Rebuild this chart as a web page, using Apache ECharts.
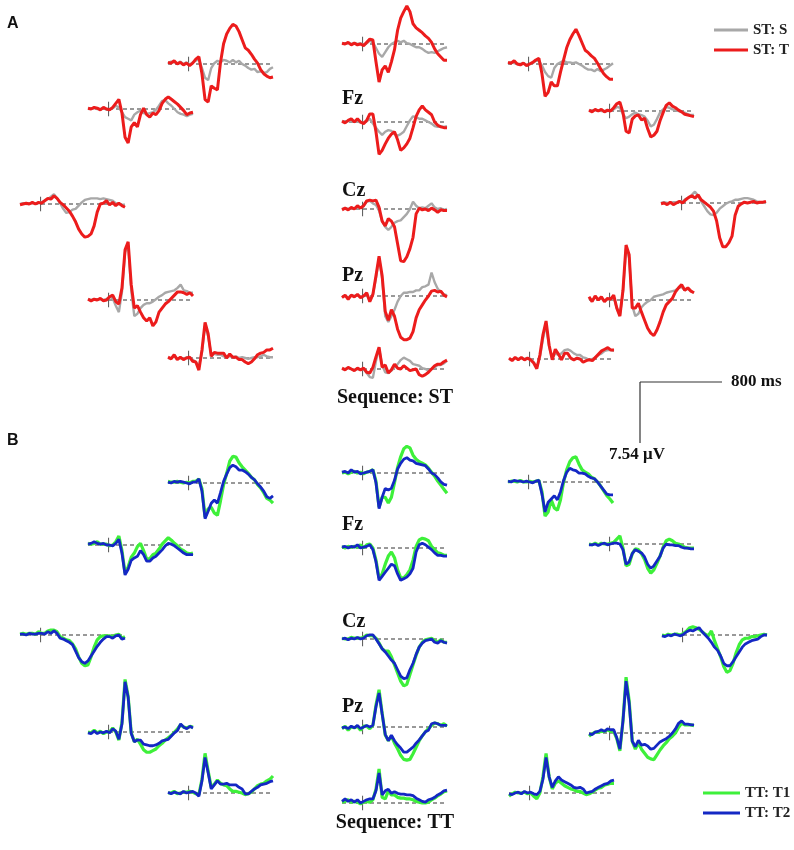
<!DOCTYPE html>
<html>
<head>
<meta charset="utf-8">
<title>ERP waveforms</title>
<script src="https://cdn.jsdelivr.net/npm/echarts@6/dist/echarts.min.js"></script>
<style>
  html, body { margin: 0; padding: 0; background: #fff; }
  #main { width: 794px; height: 850px; }
</style>
</head>
<body>
<div id="main"></div>
<script>
// sample times in ms, shared by every waveform
const times = [-200,-170,-140,-110,-80,-50,-20,10,40,70,100,130,160,190,220,250,280,310,340,370,400,430,460,490,520,550,580,610,640,670,700,730,760,790,820];

// one row per panel, order: top L/C/R, Fz row L/C/R, Cz row L/C/R, Pz row L/C/R, bottom L/C/R   (values in µV)
const stS = [
  [0.1,0.3,0.2,0.1,0.3,0,0.2,-0.1,0.2,0.4,0.6,-0.5,-1.7,-2.0,-0.5,0.1,0.4,0.2,0.5,0.4,0.2,0.5,0.2,0.4,0,-0.2,-0.5,-0.7,-0.6,-1.0,-0.9,-1.1,-1.0,-0.6,-0.4],
  [0,0.1,0.1,0,0.1,0,0.1,-0.1,0.1,0.4,0.2,-0.5,-1.2,-1.6,-1.0,-0.4,0,0.2,0.4,0.2,0.4,0.1,0,-0.2,-0.4,-0.4,-0.6,-0.9,-1.1,-1.0,-1.1,-0.9,-0.7,-0.5,-0.4],
  [0.1,0.2,0.1,0,0,0.1,-0.1,0,0.1,0.4,0.4,-0.2,-1.0,-1.5,-1.7,-0.5,0,0.2,0.4,0.2,0.2,0.1,0.2,0,-0.2,-0.5,-0.7,-0.7,-0.9,-0.6,-0.9,-0.7,-0.5,-0.2,0.1],
  [0,0.1,0.1,0,0,0.1,-0.1,0,0.1,0.4,0.2,-0.4,-1.0,-1.2,-1.4,-0.7,-0.4,-0.2,-0.5,-0.6,-0.5,-0.4,-0.1,0.4,1.0,1.1,0.7,0.4,0,-0.4,-0.6,-0.7,-0.9,-0.7,-0.6],
  [0,0.1,0.1,0.2,0,0.1,-0.1,-0.1,0.1,0.4,-0.2,-0.7,-1.2,-1.6,-1.2,-1.0,-1.1,-1.5,-1.7,-1.5,-1.2,-0.5,0.2,0.7,0.6,0.4,0.4,0.2,0,-0.2,-0.5,-0.6,-0.5,-0.6,-0.5],
  [0,0.1,0.1,0.1,0,0,0,0.1,0.2,0.5,0.4,-0.4,-0.9,-0.7,-0.4,-0.2,-0.4,-0.5,-0.7,-1.2,-1.9,-1.7,-1.0,-0.2,0.2,0.5,0.4,0.2,0.1,0,-0.1,-0.2,-0.4,-0.5,-0.5],
  [0,0.1,0,0.1,0.1,0.1,0.1,0.2,0.4,0.6,0.9,1.2,0.7,0.1,-0.6,-1.1,-1.0,-0.7,-0.6,-0.2,0.2,0.5,0.6,0.7,0.7,0.7,0.6,0.7,0.6,0.5,0.4,0.1,0,-0.1,-0.1],
  [0,0.1,0,0.1,0.1,0.2,0.2,0.4,0.9,1.0,0.7,0.5,-0.2,-1.5,-2.2,-2.6,-2.2,-1.7,-1.5,-1.4,-1.0,-0.6,0,0.9,0.4,0.1,0.2,0.1,0.4,0.7,0.2,0,0.1,-0.1,0],
  [0,0.1,0,0,0.1,0.1,0.2,0.2,0.5,0.7,1.0,1.4,0.9,0.2,-0.4,-1.0,-1.4,-1.5,-1.2,-0.7,-0.4,-0.1,0.1,0.2,0.4,0.4,0.5,0.6,0.6,0.5,0.4,0.2,0.1,0.1,0],
  [0.1,0,0.1,0.1,0.1,0,0.1,0.4,0.2,-0.7,-1.5,1.0,5.9,6.8,1.2,-2.0,-1.7,-1.0,-0.6,-0.4,-0.4,-0.2,0.1,0.4,0.6,0.9,1.0,1.1,1.2,1.5,1.9,1.2,1.1,0.9,0.9],
  [-0.1,0,-0.2,0.1,0,0.1,-0.1,0,0.2,-0.6,0.2,2.2,4.7,2.2,-2.5,-3.2,-2.5,-1.7,-0.7,0,0.4,0.4,0.5,0.5,0.7,0.7,1.1,1.2,1.4,2.9,1.7,0.9,0.5,0.2,0.1],
  [0.2,-0.1,0.4,0,0.2,-0.1,0.1,0.1,0.4,-1.0,-1.9,1.0,6.4,5.2,-0.7,-2.0,-1.7,-0.9,-0.5,-0.2,0,0.4,0.5,0.6,0.7,0.9,1.0,1.1,1.2,1.5,1.6,1.2,1.4,1.1,0.9],
  [0,0,0.2,-0.1,0,-0.1,0.1,0,-0.2,-0.5,-1.0,0.7,4.0,2.7,0.4,0.5,0.4,0.4,0.2,0.2,0.2,0.1,0.2,0,0.1,0,-0.1,0,0.1,0.1,0.2,0.4,0.2,0.1,0.1],
  [0,0,0.1,0,-0.1,0,-0.1,0,-0.5,-1.0,-1.1,1.0,2.5,0.5,-0.4,-0.5,-0.2,0.2,0.6,1.1,1.4,1.2,1.0,0.6,0.5,0.4,0.1,0,-0.2,0,0.2,0.5,0.5,0.7,1.0],
  [0,-0.1,0.1,0,0.1,0,0.1,0,-0.4,-1.0,0.2,2.5,4.2,1.5,0.1,0.7,0.5,0.7,1.1,1.2,1.0,0.7,0.5,0.5,0.2,0.1,-0.1,0,0.2,0.5,0.7,1.0,1.1,1.1,1.0]
];

const stT = [
  [0.2,0.1,0.4,0,0.2,-0.1,0.1,-0.2,0.1,0.6,0.9,-1.2,-4.4,-4.7,-2.7,-3.0,-3.2,0.2,2.5,3.7,4.4,4.9,4.7,4.0,3.0,2.0,1.7,1.2,0.6,0.1,-0.7,-1.2,-1.5,-1.7,-1.6],
  [0.1,0,0.2,-0.1,0.1,-0.1,0,-0.2,0.2,0.6,0.5,-2.2,-4.7,-3.2,-2.7,-3.5,-2.2,-0.7,1.7,3.2,4.0,4.7,4.0,2.5,2.0,1.7,1.4,1.0,0.7,0.2,-0.6,-1.2,-1.6,-2.0,-2.0],
  [0.2,0.1,0.4,0,-0.1,0.1,-0.2,0,0.2,0.5,0.7,-1.2,-4.0,-3.5,-2.2,-2.7,-2.7,-1.0,0.5,2.0,3.0,3.7,4.3,3.5,2.6,1.7,1.4,1.0,0.7,0.1,-0.6,-1.2,-1.6,-1.9,-1.9],
  [0.1,0,0.2,0.1,-0.1,0.2,0,-0.1,0.2,0.7,1.2,-0.5,-3.5,-4.2,-2.2,-1.7,-2.2,-0.7,0.1,-0.7,-1.0,-0.5,-0.7,-0.2,0.7,1.2,1.5,1.2,0.9,0.6,0.2,-0.2,-0.7,-0.5,-0.4],
  [0.1,-0.1,0.2,0.4,0,0.4,0,-0.2,0.2,1.0,1.0,-1.2,-4.0,-3.5,-2.7,-2.0,-1.5,-1.2,-2.2,-3.5,-3.2,-2.7,-2.0,-0.7,0.7,1.5,2.0,1.5,1.2,0.9,0,-0.4,-0.6,-0.7,-0.7],
  [0.1,-0.1,0.2,0,0.2,-0.1,0.1,0,0.4,0.9,1.1,-0.2,-2.5,-2.7,-1.0,-0.6,-0.5,-1.1,-0.9,-2.2,-3.2,-3.0,-2.5,-1.2,-0.2,0.7,1.0,0.6,0.4,0.1,-0.1,-0.4,-0.5,-0.6,-0.7],
  [-0.1,0,0.1,0,0.2,0,0.2,0.1,0.4,0.7,0.6,1.0,0.7,0.2,-0.1,-0.5,-0.9,-1.5,-2.2,-3.1,-3.7,-4.1,-4.0,-3.7,-2.7,-1.0,0,0.1,0.4,-0.1,0.2,-0.2,0.1,-0.2,-0.4],
  [-0.1,0.1,-0.1,0.2,0,0.4,0.1,0.4,1.0,1.1,1.0,1.1,0.2,-1.5,-2.1,-1.2,-1.5,-2.2,-4.3,-6.4,-6.5,-5.9,-4.9,-3.5,-0.6,0.1,-0.1,0,-0.2,0.1,-0.1,-0.4,-0.1,-0.2,-0.2],
  [-0.1,0,-0.2,0.1,-0.2,0,0.2,0,0.4,0.7,0.9,0.6,1.0,0.4,0.1,-0.2,-0.5,-1.0,-2.2,-4.3,-5.4,-5.4,-4.9,-4.1,-1.5,-0.4,-0.1,0.1,0,0.1,0.2,0,0.1,0.1,0.2],
  [0.1,-0.1,0.1,0,0.2,-0.1,0,0.4,0.6,-0.2,-0.5,1.5,6.2,7.2,1.9,-1.0,-0.7,-1.5,-2.2,-2.6,-2.2,-3.2,-2.7,-1.5,-1.0,-0.5,-0.2,0.2,0.6,1.0,1.0,0.9,0.7,0.9,0.5],
  [-0.2,0.1,-0.4,0.1,-0.1,0.2,-0.2,0,0.4,-0.7,0.2,2.5,4.9,2.5,-1.9,-3.0,-1.7,-2.5,-4.1,-5.1,-5.4,-5.4,-5.2,-4.4,-2.7,-1.7,-1.1,-0.5,0,0.6,0.7,0.5,0.6,0.1,-0.1],
  [0.4,-0.2,0.5,0,0.4,-0.2,0.2,0.1,0.6,-1.0,-2.0,1.2,6.8,5.6,-1.0,-1.0,-0.4,-1.5,-2.5,-3.5,-4.1,-4.4,-3.7,-2.7,-1.5,-0.6,-0.2,0.2,1.0,1.5,1.9,1.2,1.5,1.1,0.9],
  [0.1,-0.1,0.4,-0.2,0.1,-0.2,0,0.1,-0.4,-0.5,-1.5,1.0,4.4,3.0,0.2,0.7,0.6,0.6,0.6,0,0.5,0.1,0.1,-0.2,-0.2,-0.5,-0.7,-0.5,-0.1,0.4,0.6,0.7,1.0,1.0,1.2],
  [0.1,-0.1,0.2,0,-0.2,0.1,-0.1,0.1,-0.4,-0.5,0.2,1.5,2.7,0.2,0.5,-0.5,-0.1,0.6,0.1,0,0.4,0.1,-0.2,-0.1,0,-0.7,-0.9,-0.7,-0.4,0,0.4,0.6,0.6,0.9,1.1],
  [0.1,-0.2,0.2,-0.1,0.2,-0.1,0.1,-0.1,-0.5,-1.2,0.5,3.0,4.7,1.7,-0.1,1.2,0.6,-0.1,0.7,0.7,0.1,-0.1,0.1,0,-0.4,-0.2,-0.1,-0.2,0.2,0.6,1.0,1.2,1.4,1.1,1.1]
];

const ttT1 = [
  [0.2,0.1,0.1,0.2,0.1,0,0.1,0,0.2,0.2,0.5,-0.7,-4.2,-3.2,-3.0,-3.7,-4.0,-2.2,-0.2,1.2,2.7,3.3,3.2,2.5,2.0,1.6,1.2,0.7,0.4,-0.2,-0.6,-1.2,-1.9,-2.1,-2.5],
  [0,0.1,-0.1,0.1,0.2,0,0.1,-0.1,0.1,0.2,0.4,-1.0,-4.2,-3.0,-3.0,-3.7,-3.0,-1.2,0.7,2.0,3.0,3.3,3.1,2.2,1.7,1.4,1.2,1.0,0.6,0.1,-0.4,-1.0,-1.5,-2.0,-2.5],
  [0,0.1,0.1,0,0.2,0,0,0.1,0,0.1,0.2,-1.2,-4.2,-3.7,-2.2,-3.2,-3.5,-2.2,0,1.5,2.5,3.0,3.1,2.2,1.5,1.2,1.0,0.6,0.4,0,-0.5,-1.1,-1.7,-2.1,-2.6],
  [0.2,0.1,0.2,0.4,0.1,0.1,0.1,-0.1,0,0.4,1.1,-0.7,-3.5,-2.7,-1.5,-1.0,-0.2,0.2,-0.7,-1.7,-1.7,-1.2,-1.0,-0.5,0.1,0.5,0.9,0.6,0.2,-0.1,-0.5,-0.7,-1.0,-1.1,-1.0],
  [0.2,0,0.2,0.1,0.2,0.1,0.4,0,0.4,0.5,0,-1.5,-3.7,-3.2,-2.0,-1.0,-0.5,-1.2,-2.7,-3.7,-3.7,-3.3,-2.7,-1.5,0.2,1.0,1.2,1.1,0.9,0.2,-0.2,-0.6,-0.7,-0.9,-0.9],
  [0,-0.1,0.1,-0.1,0.1,0,0,0.1,0.2,0.6,1.0,-0.5,-2.7,-2.5,-1.2,-0.6,-0.7,-1.2,-1.9,-3.0,-3.6,-3.2,-2.4,-1.5,-0.4,0.4,0.6,0.4,0.1,0,-0.2,-0.4,-0.5,-0.5,-0.5],
  [0.1,0.2,0.1,0.2,0.2,0.1,0.4,0.2,0.2,0.5,0.6,0.6,0.4,-0.2,-0.4,-0.6,-0.7,-1.1,-1.7,-2.7,-3.5,-3.8,-3.7,-2.7,-1.5,-0.6,-0.2,-0.1,-0.1,-0.1,-0.2,0,0.1,-0.4,-0.2],
  [0.1,0,0,0.2,0.1,0.1,0.1,0.2,0.5,0.4,0.4,0.1,-0.5,-1.2,-1.5,-1.5,-2.2,-3.2,-4.2,-5.2,-5.8,-5.6,-4.4,-3.2,-2.0,-1.0,-0.4,-0.1,0,0.1,-0.2,-0.4,-0.1,-0.4,-0.4],
  [0,-0.1,0.1,0,0.1,0.1,0,0.2,0.5,0.9,1.0,0.9,0.7,0.4,0.1,-0.1,0.5,-0.7,-1.7,-2.7,-3.9,-4.6,-4.4,-3.5,-2.2,-1.2,-0.6,-0.4,-0.4,-0.2,-0.2,-0.1,0,0.1,0],
  [0,-0.1,0.2,-0.1,0.1,-0.2,0,0,0.5,0,-1.0,1.2,6.5,4.4,-0.1,-1.2,-0.9,-1.5,-2.2,-2.5,-2.5,-2.3,-2.1,-1.7,-1.4,-1.0,-0.7,-0.4,0,0.4,0.9,0.6,0.5,0.7,0.6],
  [-0.2,0.1,-0.4,0,-0.1,0.1,-0.4,0.1,0.1,-0.2,0.2,2.7,4.6,1.7,-1.0,-1.7,-1.1,-2.0,-2.7,-3.5,-4.0,-4.1,-4.0,-3.3,-2.5,-1.7,-1.1,-0.6,-0.2,0.2,0.5,0.4,0.2,0.4,0.1],
  [-0.4,-0.1,0.1,0.1,0.2,0.2,0.4,0.2,0.2,-0.7,-2.2,1.5,6.9,4.0,-1.0,-2.0,-1.2,-2.0,-2.5,-3.0,-3.2,-3.3,-2.7,-2.1,-1.6,-1.2,-0.7,-0.4,0,0.7,1.2,1.0,1.0,1.0,0.9],
  [0,0,0.2,-0.1,0,0.1,0.1,0.2,0.1,-0.1,-0.2,1.7,4.9,2.7,0.7,1.1,1.6,1.2,1.0,0.9,0.5,0.2,0.2,0.1,0,-0.2,-0.1,0.1,0.5,0.9,1.1,1.2,1.5,1.7,2.1],
  [0.1,0.2,0.4,0.1,0.2,0.1,-0.1,0.1,0.2,0.1,0.4,1.7,4.2,0.7,0.5,1.5,1.0,1.0,0.7,0.6,0.6,0.5,0.5,0.4,0.2,0.1,0,0,0.1,0.4,0.6,0.9,1.1,1.4,1.5],
  [-0.4,-0.1,0.1,0,0,0.1,-0.1,0,-0.4,-0.7,0,2.0,4.9,2.0,0.5,1.2,1.5,1.2,0.9,0.7,0.5,0.4,0.2,0.2,0,-0.2,-0.1,0.1,0.4,0.6,0.7,1.0,1.1,1.2,1.2]
];

const ttT2 = [
  [0.1,0,0.2,0.1,0.2,0.1,0,-0.1,0.1,0.1,0.5,-1.0,-4.4,-3.5,-2.5,-2.1,-2.5,-1.2,0.2,1.1,1.9,2.2,2.0,1.6,1.6,1.4,1.1,0.7,0.4,-0.1,-0.5,-1.0,-1.7,-1.9,-1.6],
  [0.1,0.2,0,0.4,0.1,0.2,-0.1,0,0.1,0.2,0.4,-1.2,-4.4,-3.0,-1.9,-2.1,-1.9,-0.9,0.5,1.2,1.7,1.9,1.6,1.5,1.2,1.1,1.0,0.9,0.5,0,-0.2,-0.6,-1.1,-1.4,-1.5],
  [0.1,0,0.2,0.1,0.1,0,0.1,0,-0.1,0.1,0.2,-1.5,-3.7,-2.5,-2.1,-1.7,-2.2,-1.2,0.2,1.2,1.7,1.5,1.4,1.1,1.1,1.0,0.7,0.5,0.4,0,-0.5,-1.0,-1.5,-1.6,-1.6],
  [0.1,0.2,0.4,0.2,0.1,0.2,0,0,-0.1,0.2,0.7,-1.0,-3.7,-3.0,-1.9,-1.6,-1.4,-0.7,-1.2,-2.0,-2.0,-1.6,-1.4,-1.0,-0.6,-0.1,0.2,0.1,-0.1,-0.4,-0.7,-1.0,-1.2,-1.2,-1.2],
  [0.1,0.2,0,0.2,0.1,0.4,0,0.1,0.2,0.4,-0.2,-1.7,-4.0,-3.5,-3.0,-2.5,-2.0,-2.2,-3.2,-4.0,-3.8,-3.6,-3.2,-2.5,-0.5,0.4,0.6,0.4,0.1,-0.2,-0.6,-0.9,-0.9,-1.0,-1.0],
  [-0.1,-0.1,0,-0.2,0,0.1,-0.1,0,0.1,0.1,0,-0.7,-2.5,-2.2,-1.2,-0.7,-0.9,-1.1,-1.6,-2.5,-3.0,-2.7,-2.1,-1.5,-0.5,0,-0.1,-0.1,-0.2,-0.2,-0.4,-0.5,-0.5,-0.6,-0.6],
  [0.1,0.1,0,0.2,0.1,0.1,0.2,0.2,0.1,0.4,0.2,0.5,0.2,-0.4,-0.5,-0.7,-0.9,-1.2,-2.0,-2.8,-3.3,-3.5,-3.2,-2.6,-2.0,-1.4,-0.9,-0.5,-0.2,-0.2,-0.4,-0.1,0,-0.5,-0.4],
  [0,0.1,-0.1,0.1,0,0.2,0,0.1,0.4,0.5,0.5,0,-0.6,-1.2,-1.6,-2.1,-2.6,-3.0,-3.8,-4.6,-4.9,-4.8,-3.8,-3.0,-1.9,-1.0,-0.5,-0.2,-0.1,0,-0.4,-0.5,-0.2,-0.4,-0.5],
  [-0.1,-0.2,0,-0.1,0.1,0,-0.1,0.1,0.4,0.6,0.5,0.7,0.9,0.4,0,-0.4,-0.9,-1.5,-1.9,-2.6,-3.5,-3.8,-3.8,-3.3,-2.7,-2.1,-1.5,-1.1,-0.9,-0.7,-0.6,-0.5,-0.2,0,0],
  [-0.1,-0.2,0.1,-0.2,0,-0.1,0.1,-0.1,0.4,0.1,-0.9,1.0,6.2,4.3,-0.2,-1.2,-1.0,-1.0,-1.5,-1.6,-1.7,-1.7,-1.6,-1.4,-1.1,-1.0,-0.9,-0.5,-0.1,0.2,1.0,0.6,0.4,0.7,0.5],
  [-0.1,0,-0.2,0.1,-0.1,0.2,-0.2,0,0.2,0,0.2,2.5,4.2,1.6,-0.9,-1.7,-1.0,-1.7,-2.2,-2.6,-3.1,-3.1,-2.8,-2.5,-2.0,-1.6,-1.1,-0.6,-0.4,0.4,0.5,0.4,0.2,0.2,0.2],
  [-0.1,-0.2,0.1,0.2,0.4,0.2,0.5,0.4,0.4,-0.6,-2.0,1.5,6.4,3.7,-1.0,-1.7,-0.9,-1.5,-1.4,-1.6,-2.0,-1.9,-1.5,-1.1,-0.9,-0.7,-0.4,0,0.5,1.2,1.5,1.1,1.1,1.0,1.0],
  [0.1,-0.1,0.1,0,-0.1,0.2,0,0.1,0.2,0,-0.4,1.5,4.4,2.5,0.5,1.0,1.5,1.1,1.1,1.2,1.0,1.0,1.0,0.7,0.5,-0.1,-0.1,0.2,0.5,0.7,1.0,1.1,1.2,1.4,1.5],
  [0.2,0.5,0.2,0.4,0.1,0.4,0,0.2,0.4,0.5,0.5,1.5,3.7,1.0,1.5,1.7,1.2,1.4,1.2,1.1,1.1,1.0,1.0,0.9,0.6,0.4,0.2,0.1,0.4,0.5,0.7,1.0,1.2,1.5,1.6],
  [-0.1,-0.2,0,0.1,-0.1,0.2,0,0.1,-0.1,-0.2,0.2,1.7,4.4,2.0,0.7,1.5,2.0,1.6,1.4,1.2,1.0,0.7,0.6,0.7,0.5,0,0.1,0.2,0.5,0.7,0.9,1.1,1.2,1.5,1.6]
];

const electrodeLabels = ['Fz', 'Cz', 'Pz'];
const scaleLabels = ['800 ms', '7.54 \u03bcV'];

// panel layout: [left px, baseline px] for the 15 panels of each section
const panelsA = [[168,64],[342,44],[508,64],[88,109],[342,122],[589,111],[20,204],[342,209],[661,203],[88,300],[342,296],[589,300],[168,358],[342,369],[509,359]];
const panelsB = [[168,483],[342,473],[508,482],[88,545],[342,548],[589,544],[20,635],[342,639],[662,635],[88,732],[342,727],[589,733],[168,793],[342,803],[509,793]];

const PANEL_W = 105;
const PANEL_H = 80;              // kept inside the canvas; traces are not clipped
const PX_PER_UV = 61 / 7.54;     // from the scale bar
const Y_HALF = (PANEL_H / 2) / PX_PER_UV;

const chart = echarts.init(document.getElementById('main'), null, { renderer: 'canvas' });

const grids = [], xAxes = [], yAxes = [], series = [];

function toPairs(values) {
  return values.map((v, i) => [times[i], v]);
}

function addPanel(pos, back, front, names, colors, widths) {
  const k = grids.length;
  grids.push({ left: pos[0], top: pos[1] - PANEL_H / 2, width: PANEL_W, height: PANEL_H });
  xAxes.push({ type: 'value', gridIndex: k, min: -200, max: 820, show: false });
  yAxes.push({ type: 'value', gridIndex: k, min: -Y_HALF, max: Y_HALF, show: false });
  // dashed zero line
  series.push({
    type: 'line', xAxisIndex: k, yAxisIndex: k, silent: true, symbol: 'none', z: 1, clip: false,
    data: [[-200, 0], [820, 0]],
    lineStyle: { color: '#333', width: 1, type: [4, 3] }
  });
  // stimulus onset tick
  series.push({
    type: 'line', xAxisIndex: k, yAxisIndex: k, silent: true, symbol: 'none', z: 1, clip: false,
    data: [[0, -0.9], [0, 0.9]],
    lineStyle: { color: '#555', width: 1 }
  });
  series.push({
    name: names[0], type: 'line', xAxisIndex: k, yAxisIndex: k, symbol: 'none', z: 2, clip: false,
    data: toPairs(back), lineStyle: { color: colors[0], width: widths[0] }, itemStyle: { color: colors[0] }
  });
  series.push({
    name: names[1], type: 'line', xAxisIndex: k, yAxisIndex: k, symbol: 'none', z: 3, clip: false,
    data: toPairs(front), lineStyle: { color: colors[1], width: widths[1] }, itemStyle: { color: colors[1] }
  });
}

panelsA.forEach((p, i) => addPanel(p, stS[i], stT[i], ['ST: S', 'ST: T'], ['#a8a8a8', '#ec1c1c'], [2.4, 3]));
panelsB.forEach((p, i) => addPanel(p, ttT1[i], ttT2[i], ['TT: T1', 'TT: T2'], ['#3ef03a', '#1428c4'], [3.2, 2.8]));

const serifBold = (size) => 'bold ' + size + 'px "Liberation Serif", "Times New Roman", serif';
const sansBold = (size) => 'bold ' + size + 'px "Liberation Sans", Arial, sans-serif';

function textEl(str, x, y, font, align) {
  return {
    type: 'text', silent: true, z: 10,
    style: { text: str, x: x, y: y, font: font, fill: '#111', align: align, verticalAlign: 'middle', textAlign: align, textVerticalAlign: 'middle' }
  };
}

const graphic = [
  textEl('A', 7, 24, sansBold(16), 'left'),
  textEl('B', 7, 441, sansBold(16), 'left'),
  textEl(electrodeLabels[0], 342, 99, serifBold(20), 'left'),
  textEl(electrodeLabels[1], 342, 191, serifBold(20), 'left'),
  textEl(electrodeLabels[2], 342, 276, serifBold(20), 'left'),
  textEl(electrodeLabels[0], 342, 525, serifBold(20), 'left'),
  textEl(electrodeLabels[1], 342, 622, serifBold(20), 'left'),
  textEl(electrodeLabels[2], 342, 707, serifBold(20), 'left'),
  textEl('Sequence: ST', 395, 398, serifBold(20), 'center'),
  textEl('Sequence: TT', 395, 823, serifBold(20), 'center'),
  // scale bar
  { type: 'line', silent: true, shape: { x1: 640, y1: 382, x2: 640, y2: 443 }, style: { stroke: '#333', lineWidth: 1.2 } },
  { type: 'line', silent: true, shape: { x1: 640, y1: 382, x2: 722, y2: 382 }, style: { stroke: '#333', lineWidth: 1.2 } },
  textEl(scaleLabels[0], 731, 382, serifBold(17), 'left'),
  textEl(scaleLabels[1], 637, 455, serifBold(17), 'center')
];

const legendText = { fontFamily: '"Liberation Serif", "Times New Roman", serif', fontWeight: 'bold', fontSize: 15, color: '#222', lineHeight: 16 };

chart.setOption({
  animation: false,
  backgroundColor: '#fff',
  grid: grids,
  xAxis: xAxes,
  yAxis: yAxes,
  legend: [
    { data: ['ST: S', 'ST: T'], orient: 'vertical', left: 709, top: 17, icon: 'rect', itemWidth: 34, itemHeight: 3, itemGap: 4, selectedMode: false, textStyle: legendText },
    { data: ['TT: T1', 'TT: T2'], orient: 'vertical', left: 698, top: 780, icon: 'rect', itemWidth: 37, itemHeight: 3, itemGap: 4, selectedMode: false, textStyle: legendText }
  ],
  graphic: graphic,
  series: series
});
</script>
</body>
</html>
